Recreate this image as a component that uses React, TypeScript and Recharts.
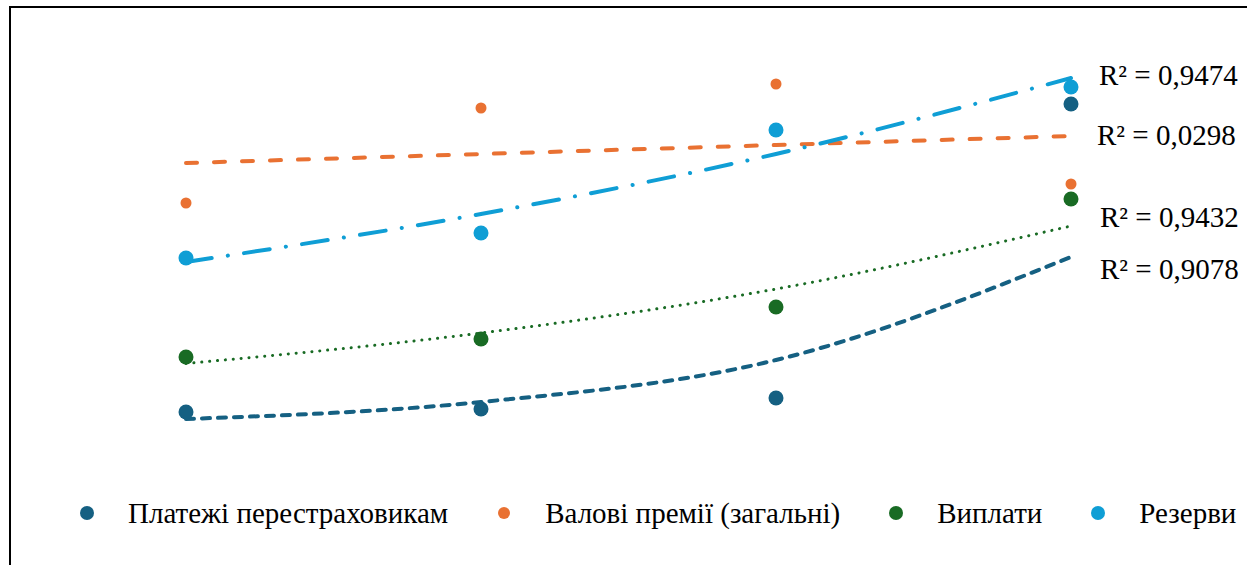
import React from 'react';
import { ComposedChart, Line, XAxis, YAxis } from 'recharts';

// four reporting periods, values in chart units
const periods = [1, 2, 3, 4];

const reinsurancePayments = [18, 21, 32, 326];
const grossPremiums = [227, 322, 346, 246];
const claimsPaid = [73, 91, 123, 231];
const reserves = [172, 197, 300, 343];

// trendline values read at each period
const reinsuranceTrend = [11, 28, 70, 173];
const premiumsTrend = [267, 276, 285, 294];
const claimsTrend = [66.5, 97, 141, 204];
const reservesTrend = [168, 216, 276, 352];

const r2Labels = ['R² = 0,9474', 'R² = 0,0298', 'R² = 0,9432', 'R² = 0,9078'];

const series = [
  { key: 'pay', trend: 'payTrend', name: 'Платежі перестраховикам', color: '#156082', r: 7.5, dash: '8 8', width: 4 },
  { key: 'prem', trend: 'premTrend', name: 'Валові премії (загальні)', color: '#E97132', r: 5.5, dash: '11 17', width: 4 },
  { key: 'claims', trend: 'claimsTrend', name: 'Виплати', color: '#196B24', r: 7.5, dash: '0.1 7.8', width: 3 },
  { key: 'res', trend: 'resTrend', name: 'Резерви', color: '#0F9ED5', r: 7.5, dash: '26 16.3 0.1 16.3', width: 4 },
];

const data = periods.map((p, i) => ({
  p,
  pay: reinsurancePayments[i],
  prem: grossPremiums[i],
  claims: claimsPaid[i],
  res: reserves[i],
  payTrend: reinsuranceTrend[i],
  premTrend: premiumsTrend[i],
  claimsTrend: claimsTrend[i],
  resTrend: reservesTrend[i],
}));

const font = '"Liberation Serif", "Times New Roman", serif';

function LegendRow() {
  return (
    <div style={{ position: 'absolute', left: 0, top: 496, display: 'flex', alignItems: 'center', paddingLeft: 80, fontFamily: font, fontSize: 29, color: '#000', lineHeight: '34px' }}>
      {series.map((s) => (
        <div key={s.key} style={{ display: 'flex', alignItems: 'center', marginRight: 49 }}>
          <svg width={14} height={14} style={{ marginRight: 34 }}>
            <circle cx={7} cy={7} r={s.key === 'prem' ? 6 : 7} fill={s.color} />
          </svg>
          <span style={{ whiteSpace: 'nowrap' }}>{s.name}</span>
        </div>
      ))}
    </div>
  );
}

const labelSpots = [
  { x: 1099, y: 85 },
  { x: 1097, y: 145 },
  { x: 1100, y: 227 },
  { x: 1100, y: 279 },
];

export default function App() {
  return (
    <div style={{ position: 'fixed', left: 0, top: 0, width: 1247, height: 565, overflow: 'hidden', background: '#fff' }}>
      <div style={{ position: 'absolute', left: 9, top: 6, width: 1400, height: 700, borderLeft: '2px solid #000', borderTop: '2px solid #000' }} />
      <div style={{ position: 'absolute', left: 0, top: 0 }}>
        <ComposedChart width={1247} height={565} data={data} margin={{ top: 30, right: 176, bottom: 135, left: 186 }}>
          <XAxis dataKey="p" type="number" domain={[1, 4]} hide />
          <YAxis type="number" domain={[0, 400]} hide />
          {series.map((s) => (
            <Line
              key={s.key}
              dataKey={s.key}
              name={s.name}
              stroke="none"
              dot={{ r: s.r, fill: s.color, stroke: 'none' }}
              activeDot={false}
              isAnimationActive={false}
            />
          ))}
          {series.map((s) => (
            <Line
              key={s.trend}
              dataKey={s.trend}
              type="monotone"
              stroke={s.color}
              strokeWidth={s.width}
              strokeDasharray={s.dash}
              strokeLinecap="round"
              dot={false}
              activeDot={false}
              legendType="none"
              isAnimationActive={false}
            />
          ))}
        </ComposedChart>
      </div>
      <LegendRow />
      <svg width={1247} height={565} style={{ position: 'absolute', left: 0, top: 0, pointerEvents: 'none' }}>
        {r2Labels.map((t, i) => (
          <text key={t} x={labelSpots[i].x} y={labelSpots[i].y} fontFamily={font} fontSize={29} fill="#000">
            {t}
          </text>
        ))}
      </svg>
    </div>
  );
}
